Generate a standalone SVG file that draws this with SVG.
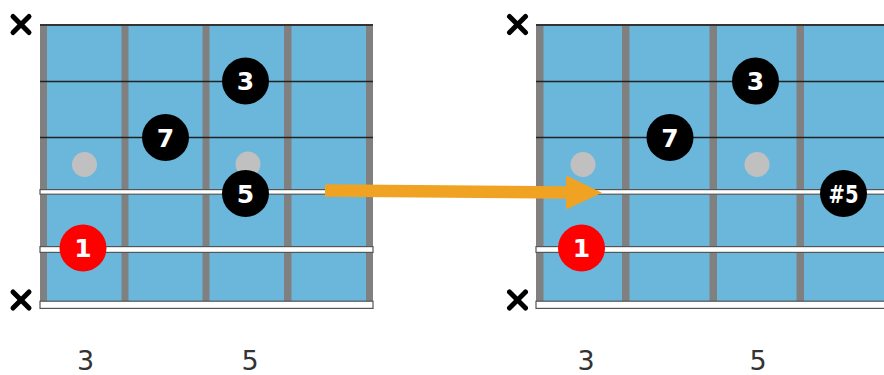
<svg xmlns="http://www.w3.org/2000/svg" width="884" height="375" viewBox="0 0 884 375">
<defs>
<style>
.board{fill:#6bb7db}
.fret{fill:#808080}
.thin{stroke:#222;stroke-width:1.6}
.top{stroke:#333;stroke-width:2}
.ws{fill:#fff;stroke:#555;stroke-width:1.2}
.mute{stroke:#000;stroke-width:5;stroke-linecap:round}
.blk{fill:#000}
.red{fill:#ff0000}
.ghost{fill:#c0c0c0}
.lbl{font-family:"DejaVu Sans","Noto Sans",sans-serif;font-weight:bold;font-size:25px;fill:#fff;text-anchor:middle}
.fn{font-family:"DejaVu Sans","Noto Sans",sans-serif;font-size:27px;fill:#333;text-anchor:middle}
.arrow{stroke:#f0a323;stroke-width:12.5;fill:none}
</style>
<marker id="head" markerUnits="userSpaceOnUse" markerWidth="37" markerHeight="35" refX="0" refY="17" orient="auto" viewBox="0 0 37 35">
<path d="M0,0 L36,17 L0,34 z" fill="#f0a323"/>
</marker>
</defs>

<g id="fretboard-left">
<rect class="board" x="40" y="25" width="333" height="280"/>
<rect class="fret" x="40" y="25" width="7" height="280"/>
<rect class="fret" x="121.5" y="25" width="7" height="280"/>
<rect class="fret" x="202.5" y="25" width="7" height="280"/>
<rect class="fret" x="284" y="25" width="7.5" height="280"/>
<rect class="fret" x="366" y="25" width="7" height="280"/>
<line class="top" x1="40" y1="25" x2="373" y2="25"/>
<line class="thin" x1="40" y1="81.5" x2="373" y2="81.5"/>
<line class="thin" x1="40" y1="137.5" x2="373" y2="137.5"/>
<rect class="ws" x="40" y="189.6" width="333" height="4.6"/>
<rect class="ws" x="40" y="246.6" width="333" height="5.8"/>
<rect class="ws" x="40" y="301.2" width="333" height="7.2"/>
<line class="mute" x1="13" y1="16.5" x2="29" y2="32.5"/>
<line class="mute" x1="29" y1="16.5" x2="13" y2="32.5"/>
<line class="mute" x1="13" y1="292" x2="29" y2="308"/>
<line class="mute" x1="29" y1="292" x2="13" y2="308"/>
<text class="fn" x="85.5" y="370">3</text>
<text class="fn" x="250" y="370">5</text>
</g>

<g id="fretboard-right">
<rect class="board" x="536" y="25" width="348" height="280"/>
<rect class="fret" x="536" y="25" width="7.5" height="280"/>
<rect class="fret" x="622" y="25" width="7.5" height="280"/>
<rect class="fret" x="709.5" y="25" width="7.5" height="280"/>
<rect class="fret" x="796.5" y="25" width="7.5" height="280"/>
<line class="top" x1="536" y1="25" x2="884" y2="25"/>
<line class="thin" x1="536" y1="81.5" x2="884" y2="81.5"/>
<line class="thin" x1="536" y1="137.5" x2="884" y2="137.5"/>
<rect class="ws" x="536" y="189.6" width="350" height="4.6"/>
<rect class="ws" x="536" y="246.6" width="350" height="5.8"/>
<rect class="ws" x="536" y="301.2" width="350" height="7.2"/>
<line class="mute" x1="509.5" y1="16.5" x2="525.5" y2="32.5"/>
<line class="mute" x1="525.5" y1="16.5" x2="509.5" y2="32.5"/>
<line class="mute" x1="509.5" y1="292" x2="525.5" y2="308"/>
<line class="mute" x1="525.5" y1="292" x2="509.5" y2="308"/>
<text class="fn" x="586" y="370">3</text>
<text class="fn" x="758" y="370">5</text>
</g>

<g id="inlay-left-1"><circle class="ghost" cx="84.5" cy="164.5" r="12.5"/></g>
<g id="inlay-left-2"><circle class="ghost" cx="248" cy="164" r="12.5"/></g>
<g id="inlay-right-1"><circle class="ghost" cx="583" cy="164.5" r="12.5"/></g>
<g id="inlay-right-2"><circle class="ghost" cx="757" cy="164.5" r="12.5"/></g>

<g id="connectors">
<line class="arrow" x1="325" y1="190.5" x2="566" y2="192.5" marker-end="url(#head)"/>
</g>

<g id="left-root"><circle class="red" cx="83" cy="248" r="23.5"/><text class="lbl" x="83" y="257">1</text></g>
<g id="left-seventh"><circle class="blk" cx="165.5" cy="137.5" r="23.5"/><text class="lbl" x="165.5" y="146.5">7</text></g>
<g id="left-third"><circle class="blk" cx="245.5" cy="81" r="23.5"/><text class="lbl" x="245.5" y="90">3</text></g>
<g id="left-fifth"><circle class="blk" cx="245.5" cy="193.5" r="23.5"/><text class="lbl" x="245.5" y="202.5">5</text></g>

<g id="right-root"><circle class="red" cx="581.5" cy="248" r="23.5"/><text class="lbl" x="581.5" y="257">1</text></g>
<g id="right-seventh"><circle class="blk" cx="670" cy="137.5" r="23.5"/><text class="lbl" x="670" y="146.5">7</text></g>
<g id="right-third"><circle class="blk" cx="755.5" cy="81" r="23.5"/><text class="lbl" x="755.5" y="90">3</text></g>
<g id="right-sharp-fifth"><circle class="blk" cx="843.5" cy="193.5" r="23.5"/><text class="lbl" x="843.5" y="202.5" textLength="30" lengthAdjust="spacingAndGlyphs">#5</text></g>
</svg>
